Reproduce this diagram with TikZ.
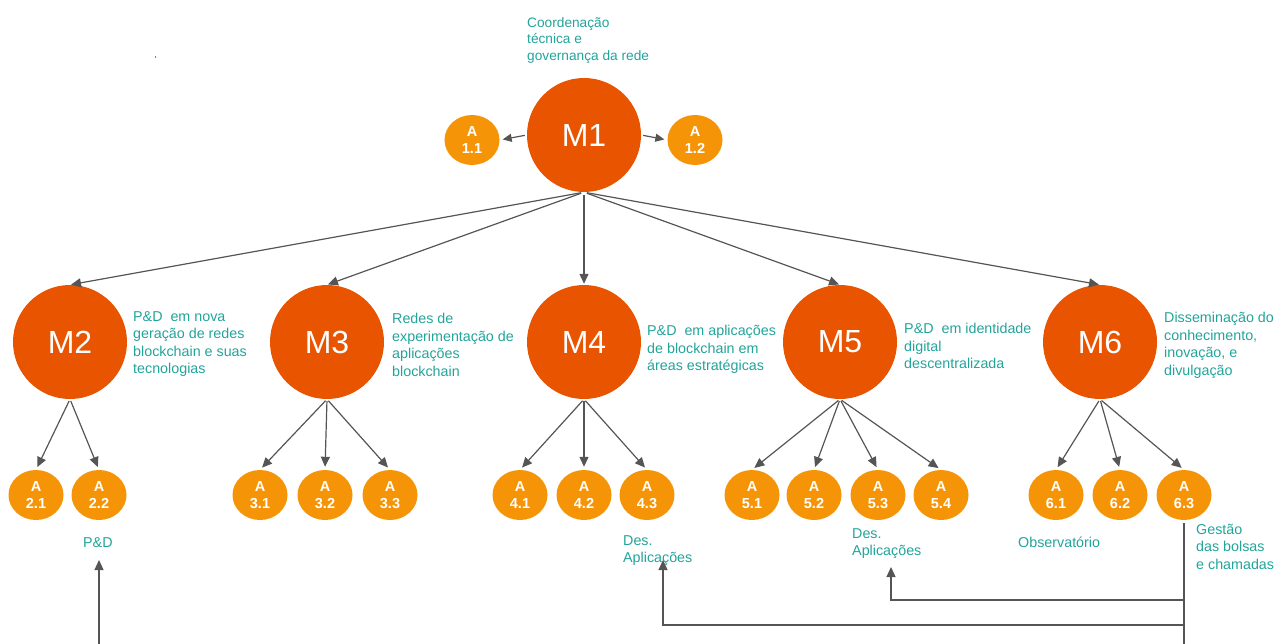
\documentclass[tikz,border=0pt]{standalone}
\usepackage{fontspec}
\setmainfont{Liberation Sans}
\usetikzlibrary{arrows.meta,shapes.geometric}
\definecolor{mcol}{RGB}{232,84,0}
\definecolor{acol}{RGB}{246,148,8}
\definecolor{tcol}{RGB}{34,164,154}
\definecolor{lcol}{RGB}{85,85,85}
\begin{document}
\begin{tikzpicture}[x=1pt,y=-1pt,
  mnode/.style={circle,fill=mcol,minimum size=114pt,inner sep=0pt,text=white,font=\fontsize{32}{36}\selectfont},
  anode/.style={ellipse,fill=acol,minimum width=55pt,minimum height=50pt,inner sep=0pt,text=white,align=center,font=\fontsize{14.5}{17}\selectfont\bfseries},
  lbl/.style={anchor=north west,inner sep=0pt,text=tcol,align=left,font=\fontsize{14.3}{17.5}\selectfont},
  arr/.style={draw=lcol,line width=1.2pt,-{Triangle[length=10pt,width=9pt]}},
  sarr/.style={draw=lcol,line width=1.2pt,-{Triangle[length=9pt,width=8pt]}},
  pline/.style={draw=lcol,line width=1.2pt}]
\useasboundingbox (0,0) rectangle (1276,644);
\fill[lcol!70] (154.5,56.5) rectangle (156,58);
% main nodes
\node[mnode] (M1) at (584,135) {M1};
\node[mnode] (M2) at (70,342) {M2};
\node[mnode] (M3) at (327,342) {M3};
\node[mnode] (M4) at (584,342) {M4};
\node[mnode] (M5) at (840,342) {M5};
\node[mnode] (M6) at (1100,342) {M6};
% A nodes
\node[anode] (A11) at (472,140) {A\\1.1};
\node[anode] (A12) at (695,140) {A\\1.2};
\node[anode] (A21) at (36,495) {A\\2.1};
\node[anode] (A22) at (99,495) {A\\2.2};
\node[anode] (A31) at (260,495) {A\\3.1};
\node[anode] (A32) at (325,495) {A\\3.2};
\node[anode] (A33) at (390,495) {A\\3.3};
\node[anode] (A41) at (520,495) {A\\4.1};
\node[anode] (A42) at (584,495) {A\\4.2};
\node[anode] (A43) at (647,495) {A\\4.3};
\node[anode] (A51) at (752,495) {A\\5.1};
\node[anode] (A52) at (814,495) {A\\5.2};
\node[anode] (A53) at (878,495) {A\\5.3};
\node[anode] (A54) at (941,495) {A\\5.4};
\node[anode] (A61) at (1056,495) {A\\6.1};
\node[anode] (A62) at (1120,495) {A\\6.2};
\node[anode] (A63) at (1184,495) {A\\6.3};
% labels
\node[lbl,font=\fontsize{13.7}{16.5}\selectfont] (L1) at (527,17) {Coordenação\\técnica e\\governança da rede};
\node[lbl] (L2) at (133,311) {P\&D~ em nova\\geração de redes\\blockchain e suas\\tecnologias};
\node[lbl] (L3) at (392,313) {Redes de\\experimentação de\\aplicações\\blockchain};
\node[lbl] (L4) at (647,325) {P\&D~ em aplicações\\de blockchain em\\áreas estratégicas};
\node[lbl] (L5) at (904,323) {P\&D~ em identidade\\digital\\descentralizada};
\node[lbl] (L6) at (1164,312) {Disseminação do\\conhecimento,\\inovação, e\\divulgação};
\node[lbl] (pd) at (83,537) {P\&D};
\node[lbl] (des4) at (623,535) {Des.\\Aplicações};
\node[lbl] (des5) at (852,528) {Des.\\Aplicações};
\node[lbl] (obs) at (1018,537) {Observatório};
\node[lbl] (gest) at (1196,524) {Gestão\\das bolsas\\e chamadas};
% M1 side arrows
\draw[sarr,shorten <=2pt,shorten >=3pt] (M1.west) -- (A11.east);
\draw[sarr,shorten <=2pt,shorten >=3pt] (M1.east) -- (A12.west);
% M1 to level 2
\foreach \m in {M2,M3,M4,M5,M6}
  \draw[arr,shorten <=3pt,shorten >=1pt] (M1.south) -- (\m.north);
% level 2 to A
\foreach \m/\a in {M2/A21,M2/A22,M3/A31,M3/A32,M3/A33,M4/A41,M4/A42,M4/A43,
                   M5/A51,M5/A52,M5/A53,M5/A54,M6/A61,M6/A62,M6/A63}
  \draw[arr,shorten <=2pt,shorten >=3pt] (\m.south) -- (\a.north);
% bottom connectors
\coordinate (bot6) at (1184,644);
\coordinate (j5) at (1184,600);
\coordinate (j4) at (1184,625);
\coordinate (t5) at (891,567);
\coordinate (t4) at (663,560);
\coordinate (tpd) at (99,560);
\coordinate (botpd) at (99,644);
\draw[pline,shorten <=3pt] (A63.south) -- (bot6);
\draw[arr] (j5) -| (t5);
\draw[arr] (j4) -| (t4);
\draw[arr] (botpd) -- (tpd);
\end{tikzpicture}
\end{document}
